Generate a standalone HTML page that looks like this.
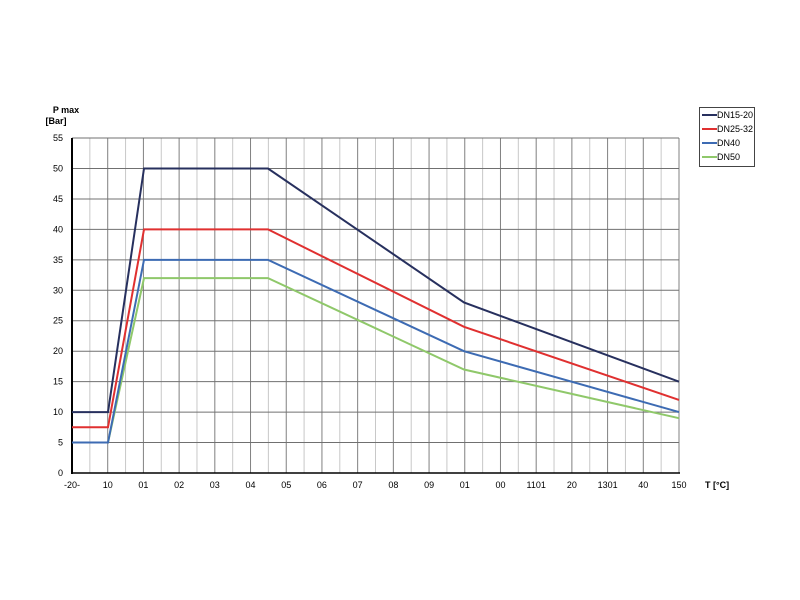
<!DOCTYPE html>
<html><head><meta charset="utf-8"><style>body{margin:0;background:#fff}svg{display:block}text{font-family:"Liberation Sans",Arial,sans-serif;font-size:9px;fill:#000}</style></head><body>
<svg width="800" height="600" viewBox="0 0 800 600">
<g stroke="#c8c8c8" stroke-width="1">
<line x1="89.85" y1="138" x2="89.85" y2="473"/><line x1="125.56" y1="138" x2="125.56" y2="473"/><line x1="161.26" y1="138" x2="161.26" y2="473"/><line x1="196.97" y1="138" x2="196.97" y2="473"/><line x1="232.68" y1="138" x2="232.68" y2="473"/><line x1="268.38" y1="138" x2="268.38" y2="473"/><line x1="304.09" y1="138" x2="304.09" y2="473"/><line x1="339.79" y1="138" x2="339.79" y2="473"/><line x1="375.5" y1="138" x2="375.5" y2="473"/><line x1="411.21" y1="138" x2="411.21" y2="473"/><line x1="446.91" y1="138" x2="446.91" y2="473"/><line x1="482.62" y1="138" x2="482.62" y2="473"/><line x1="518.32" y1="138" x2="518.32" y2="473"/><line x1="554.03" y1="138" x2="554.03" y2="473"/><line x1="589.74" y1="138" x2="589.74" y2="473"/><line x1="625.44" y1="138" x2="625.44" y2="473"/><line x1="661.15" y1="138" x2="661.15" y2="473"/>
</g>
<g stroke="#808080" stroke-width="1">
<line x1="107.71" y1="138" x2="107.71" y2="473"/><line x1="143.41" y1="138" x2="143.41" y2="473"/><line x1="179.12" y1="138" x2="179.12" y2="473"/><line x1="214.82" y1="138" x2="214.82" y2="473"/><line x1="250.53" y1="138" x2="250.53" y2="473"/><line x1="286.24" y1="138" x2="286.24" y2="473"/><line x1="321.94" y1="138" x2="321.94" y2="473"/><line x1="357.65" y1="138" x2="357.65" y2="473"/><line x1="393.35" y1="138" x2="393.35" y2="473"/><line x1="429.06" y1="138" x2="429.06" y2="473"/><line x1="464.76" y1="138" x2="464.76" y2="473"/><line x1="500.47" y1="138" x2="500.47" y2="473"/><line x1="536.18" y1="138" x2="536.18" y2="473"/><line x1="571.88" y1="138" x2="571.88" y2="473"/><line x1="607.59" y1="138" x2="607.59" y2="473"/><line x1="643.29" y1="138" x2="643.29" y2="473"/><line x1="679" y1="138" x2="679" y2="473"/>
</g>
<g stroke="#707070" stroke-width="1">
<line x1="72" y1="442.55" x2="679" y2="442.55"/><line x1="72" y1="412.1" x2="679" y2="412.1"/><line x1="72" y1="381.65" x2="679" y2="381.65"/><line x1="72" y1="351.2" x2="679" y2="351.2"/><line x1="72" y1="320.75" x2="679" y2="320.75"/><line x1="72" y1="290.3" x2="679" y2="290.3"/><line x1="72" y1="259.85" x2="679" y2="259.85"/><line x1="72" y1="229.4" x2="679" y2="229.4"/><line x1="72" y1="198.95" x2="679" y2="198.95"/><line x1="72" y1="168.5" x2="679" y2="168.5"/><line x1="72" y1="138.05" x2="679" y2="138.05"/>
</g>
<g text-anchor="end">
<text x="63" y="476">0</text><text x="63" y="445.5">5</text><text x="63" y="415">10</text><text x="63" y="384.6">15</text><text x="63" y="354.2">20</text><text x="63" y="323.7">25</text><text x="63" y="293.3">30</text><text x="63" y="262.8">35</text><text x="63" y="232.4">40</text><text x="63" y="202">45</text><text x="63" y="171.5">50</text><text x="63" y="141">55</text>
</g>
<g text-anchor="middle">
<text x="72" y="488">-20-</text><text x="107.7" y="488">10</text><text x="143.4" y="488">01</text><text x="179.1" y="488">02</text><text x="214.8" y="488">03</text><text x="250.5" y="488">04</text><text x="286.2" y="488">05</text><text x="321.9" y="488">06</text><text x="357.6" y="488">07</text><text x="393.4" y="488">08</text><text x="429.1" y="488">09</text><text x="464.8" y="488">01</text><text x="500.5" y="488">00</text><text x="536.2" y="488">1101</text><text x="571.9" y="488">20</text><text x="607.6" y="488">1301</text><text x="643.3" y="488">40</text><text x="679" y="488">150</text>
</g>
<line x1="72" y1="138" x2="72" y2="474" stroke="#000" stroke-width="2"/>
<line x1="71" y1="473" x2="680" y2="473" stroke="#000" stroke-width="1.5"/>
<g fill="none" stroke-width="2">
<polyline stroke="#8fc86a" points="72,442.55 108,442.55 144,278.1 268,278.1 464,369.5 679,418.2"/>
<polyline stroke="#3d6bb3" points="72,442.55 108,442.55 144,259.85 268,259.85 464,351.2 679,412.1"/>
<polyline stroke="#e03030" points="72,427.3 108,427.3 144,229.4 268,229.4 464,326.8 679,399.9"/>
<polyline stroke="#27305e" points="72,412.1 108,412.1 144,168.5 268,168.5 464,302.5 679,381.65"/>
</g>
<text x="66" y="113" text-anchor="middle" font-weight="bold">P max</text>
<text x="56" y="124" text-anchor="middle" font-weight="bold">[Bar]</text>
<text x="705" y="488" font-weight="bold">T [°C]</text>
<rect x="699.5" y="107.5" width="55" height="59" fill="#fff" stroke="#444"/>
<line x1="702" y1="115" x2="717" y2="115" stroke="#27305e" stroke-width="2"/><text x="717" y="118" font-size="8.5">DN15-20</text>
<line x1="702" y1="129" x2="717" y2="129" stroke="#e03030" stroke-width="2"/><text x="717" y="132" font-size="8.5">DN25-32</text>
<line x1="702" y1="143" x2="717" y2="143" stroke="#3d6bb3" stroke-width="2"/><text x="717" y="146" font-size="8.5">DN40</text>
<line x1="702" y1="157" x2="717" y2="157" stroke="#8fc86a" stroke-width="2"/><text x="717" y="160" font-size="8.5">DN50</text>
</svg></body></html>
